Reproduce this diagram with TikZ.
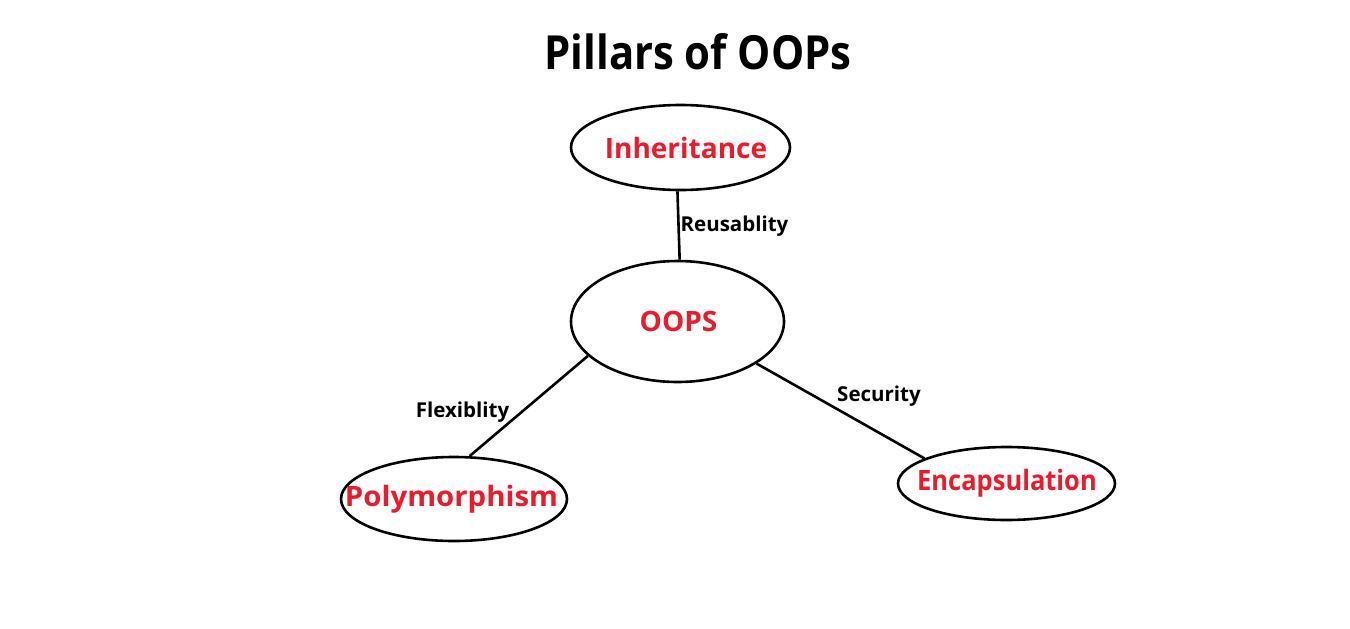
\documentclass[tikz,border=0pt]{standalone}
\usepackage{fontspec}
\setmainfont{Open Sans}
\usetikzlibrary{shapes.geometric}
\definecolor{pillarred}{RGB}{232,28,42}
\newcommand{\pillartext}[2][0pt]{\makebox[0pt]{\hspace*{#1}#2}}
\begin{document}
\begin{tikzpicture}[x=1pt,y=-1pt,
  pillar/.style={ellipse,draw=black,line width=2.6pt,inner sep=0pt,
    text=pillarred,font=\fontsize{28}{32}\selectfont\bfseries},
  link/.style={line width=2.6pt,draw=black},
  tag/.style={font=\fontsize{20.5}{24}\selectfont\bfseries,text=black,inner sep=0pt}]
  \useasboundingbox (0,0) rectangle (1350,629);
  \fill[white] (0,0) rectangle (1350,629);

  \node[font=\fontsize{47}{52}\selectfont\bfseries] (title) at (698,52)
    {\scalebox{0.89}[1]{Pillars of OOPs}};

  \node[pillar,minimum width=219pt,minimum height=85pt] (inh) at (680.5,147.5)
    {\pillartext[11pt]{Inheritance}};
  \node[pillar,minimum width=213pt,minimum height=121pt] (oops) at (677.5,321.5)
    {\pillartext[2pt]{OOPS}};
  \node[pillar,minimum width=226pt,minimum height=84pt] (poly) at (454,499)
    {\pillartext[-5pt]{\scalebox{1.05}[1]{Polymorphism}}};
  \node[pillar,minimum width=217pt,minimum height=73pt] (enc) at (1006.5,483.5)
    {\pillartext[1pt]{\scalebox{0.91}[1]{Encapsulation}}};

  \draw[link] (inh.266.6) -- (oops.88.6);
  \draw[link] (oops.201.3) -- (poly.70);
  \draw[link] (oops.332.7) -- (enc.163);

  \node[tag] (reuse) at (734.5,226) {Reusablity};
  \node[tag] (flex) at (462.5,412) {Flexiblity};
  \node[tag] (sec) at (879,396) {Security};
\end{tikzpicture}
\end{document}
